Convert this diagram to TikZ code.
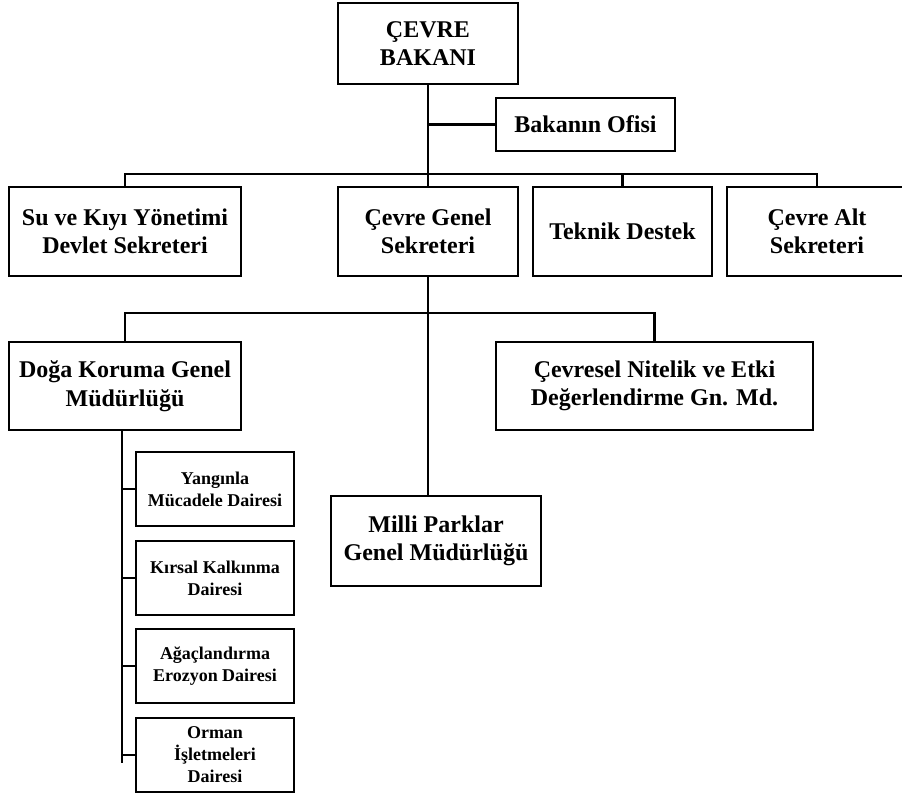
\documentclass[tikz,border=0pt]{standalone}
\usepackage{fontspec}
\setmainfont{Liberation Serif}
\begin{document}
\begin{tikzpicture}[x=1pt,y=-1pt,
  box/.style={draw, line width=2.8pt, rectangle, align=center, inner sep=2pt,
    font=\bfseries\fontsize{24}{28.5}\selectfont},
  smallbox/.style={box, font=\bfseries\fontsize{18}{22}\selectfont},
  link/.style={line width=2.8pt}]
\useasboundingbox (0,0) rectangle (902,795);
% top
\node[box, minimum width=180pt, minimum height=81pt] (bakan) at (428,43.5) {ÇEVRE\\BAKANI};
\node[box, minimum width=179pt, minimum height=53pt] (ofis) at (585.5,124.5) {Bakanın Ofisi};
% row 2
\node[box, minimum width=232pt, minimum height=89pt] (su) at (125,231.5) {Su ve Kıyı Yönetimi\\Devlet Sekreteri};
\node[box, minimum width=180pt, minimum height=89pt] (genel) at (428,231.5) {Çevre Genel\\Sekreteri};
\node[box, minimum width=179pt, minimum height=89pt] (teknik) at (622.5,231.5) {Teknik Destek};
\node[box, minimum width=180pt, minimum height=89pt] (alt) at (817,231.5) {Çevre Alt\\Sekreteri};
% row 3
\node[box, minimum width=232pt, minimum height=88pt] (doga) at (125,386) {Doğa Koruma Genel\\Müdürlüğü};
\node[box, minimum width=317pt, minimum height=88pt] (cevresel) at (654.5,386) {Çevresel Nitelik ve Etki\\Değerlendirme Gn. Md.};
\node[box, minimum width=210pt, minimum height=90pt] (milli) at (436,541) {Milli Parklar\\Genel Müdürlüğü};
% sub departments
\node[smallbox, minimum width=158pt, minimum height=74pt] (yangin) at (215,489) {Yangınla\\Mücadele Dairesi};
\node[smallbox, minimum width=158pt, minimum height=74pt] (kirsal) at (215,578) {Kırsal Kalkınma\\Dairesi};
\node[smallbox, minimum width=158pt, minimum height=74pt] (agac) at (215,666) {Ağaçlandırma\\Erozyon Dairesi};
\node[smallbox, minimum width=158pt, minimum height=74pt] (orman) at (215,755) {Orman\\İşletmeleri\\Dairesi};
% connectors
\coordinate (bar1) at (429,174);
\coordinate (bar2) at (429,313);
\coordinate (dogadown) at (122,763);
\draw[link] (bakan.south) -- (bakan.south |- bar1);
\draw[link] (bakan.south |- ofis.west) -- (ofis.west);
\draw[link] (su.north) |- (alt.north |- bar1) -- (alt.north);
\draw[link] (teknik.north) -- (teknik.north |- bar1);
\draw[link] (genel.north) -- (genel.north |- bar1);
\draw[link] (genel.south) -- (genel.south |- milli.north);
\draw[link] (doga.north) |- (cevresel.north |- bar2) -- (cevresel.north);
\draw[link] (doga.south -| dogadown) -- (dogadown);
\draw[link] (dogadown |- yangin.west) -- (yangin.west);
\draw[link] (dogadown |- kirsal.west) -- (kirsal.west);
\draw[link] (dogadown |- agac.west) -- (agac.west);
\draw[link] (dogadown |- orman.west) -- (orman.west);
\end{tikzpicture}
\end{document}
